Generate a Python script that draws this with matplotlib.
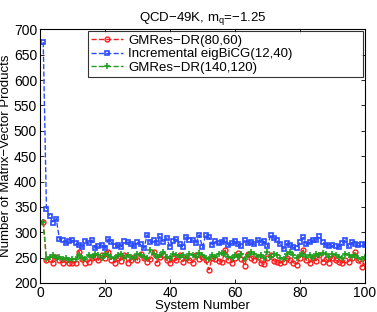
import matplotlib

matplotlib.use("Agg")
import matplotlib.pyplot as plt

plt.rcParams["font.family"] = ["Liberation Sans", "DejaVu Sans"]

systems = list(range(1, 101))

gmres_80_60 = [
    320, 245, 248, 240, 252, 245, 240, 245, 240, 240,
    240, 262, 248, 240, 242, 250, 252, 245, 255, 250,
    262, 245, 240, 250, 244, 255, 240, 245, 252, 245,
    258, 250, 242, 248, 262, 240, 252, 255, 245, 240,
    250, 245, 255, 242, 250, 246, 240, 255, 248, 252,
    245, 226, 250, 248, 244, 242, 265, 245, 240, 250,
    260, 248, 234, 258, 250, 245, 252, 240, 238, 250,
    255, 244, 242, 240, 242, 250, 245, 240, 236, 250,
    265, 245, 240, 250, 244, 255, 242, 248, 240, 250,
    245, 242, 240, 245, 242, 250, 262, 245, 232, 242,
]

eigbicg_12_40 = [
    675, 345, 332, 319, 327, 286, 285, 278, 282, 284,
    278, 275, 270, 283, 278, 285, 268, 272, 275, 268,
    287, 280, 272, 275, 270, 282, 280, 276, 272, 280,
    276, 268, 295, 280, 285, 278, 293, 280, 289, 270,
    282, 286, 276, 270, 291, 284, 285, 278, 295, 270,
    295, 290, 275, 282, 278, 280, 285, 274, 278, 282,
    276, 272, 285, 278, 280, 276, 285, 278, 282, 272,
    295, 288, 284, 276, 267, 278, 274, 270, 268, 280,
    290, 276, 280, 284, 284, 293, 280, 274, 272, 274,
    272, 270, 278, 285, 272, 280, 276, 274, 276, 275,
]

gmres_140_120 = [
    320, 248, 252, 255, 250, 252, 248, 250, 245, 248,
    248, 255, 250, 248, 255, 252, 258, 255, 250, 258,
    255, 252, 250, 255, 258, 250, 255, 252, 250, 258,
    255, 252, 250, 265, 258, 252, 255, 262, 252, 250,
    258, 255, 252, 255, 250, 258, 255, 252, 260, 255,
    250, 248, 255, 252, 258, 260, 258, 252, 250, 255,
    252, 258, 248, 255, 262, 258, 252, 255, 250, 262,
    252, 258, 255, 250, 248, 258, 262, 255, 250, 255,
    258, 252, 255, 250, 258, 255, 260, 258, 252, 258,
    255, 252, 250, 258, 255, 252, 255, 250, 248, 252,
]

fig = plt.figure(figsize=(3.77, 3.12), dpi=100)
ax = fig.add_axes([0.106, 0.093, 0.862, 0.813])

ax.plot(systems, gmres_80_60, "--o", color="#ff1a1a", mfc="none", ms=3.5, mew=1.0,
        lw=1.0, label="GMRes\u2212DR(80,60)")
ax.plot(systems, eigbicg_12_40, "--s", color="#2a4bff", mfc="none", ms=3.5, mew=1.2,
        lw=1.0, label="Incremental eigBiCG(12,40)")
ax.plot(systems, gmres_140_120, "--+", color="#1fa01f", ms=4, mew=1.2,
        lw=1.0, label="GMRes\u2212DR(140,120)")

ax.set_xlim(0, 100)
ax.set_ylim(200, 700)
ax.set_xticks(range(0, 101, 20))
ax.set_yticks(range(200, 701, 50))
ax.tick_params(direction="in", length=3, labelsize=10, top=True, right=True,
               width=0.6, pad=2)
for side in ax.spines.values():
    side.set_linewidth(0.8)

ax.set_xlabel("System Number", fontsize=9.5, labelpad=0)
ax.set_ylabel("Number of Matrix\u2212Vector Products", fontsize=9.5, labelpad=1)
ax.set_title("QCD\u221249K, m$_\\mathregular{q}$=\u22121.25", fontsize=9.5, pad=6)

leg = ax.legend(loc="upper left", bbox_to_anchor=(0.148, 0.82, 0.846, 0.173),
                mode="expand", fontsize=9.5, frameon=True, fancybox=False,
                edgecolor="black", borderpad=0.25, labelspacing=0.1,
                handlelength=2.4, handletextpad=0.4, borderaxespad=0)
leg.get_frame().set_linewidth(0.8)

fig.savefig("out.png", dpi=100)
